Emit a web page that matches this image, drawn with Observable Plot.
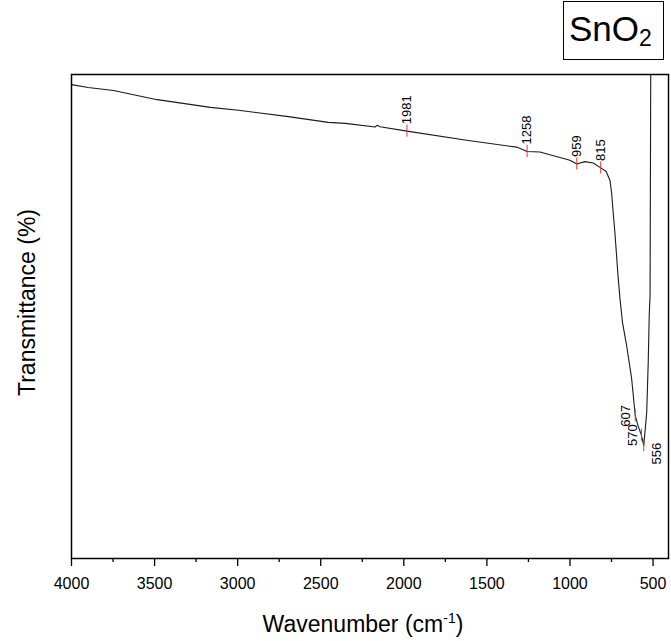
<!DOCTYPE html>
<html>
<head>
<meta charset="utf-8">
<script src="https://cdn.jsdelivr.net/npm/d3@7"></script>
<script src="https://cdn.jsdelivr.net/npm/@observablehq/plot@0.6"></script>
<style>
  body { margin: 0; background: #fff; font-family: "Liberation Sans", Arial, sans-serif; }
  #fig { position: relative; width: 671px; height: 641px; }
  #title {
    position: absolute; left: 563px; top: 1px; width: 101px; height: 59px;
    border: 1px solid #000; color: #000; box-sizing: border-box;
  }
  #title span { position: absolute; left: 5px; top: 9px; font-size: 35px; line-height: 35px; white-space: nowrap; }
  #title sub { font-size: 23px; position: relative; top: 5px; vertical-align: baseline; line-height: 0; }
  #xlabel {
    position: absolute; left: 213px; width: 300px; top: 611px; text-align: center;
    font-size: 23px; line-height: 26px; color: #000;
  }
  #xlabel sup { font-size: 14px; vertical-align: 9px; line-height: 0; }
</style>
</head>
<body>
<div id="fig"></div>
<script>
// FTIR spectrum of SnO2: wavenumber (cm-1) and transmittance (%)
const wavenumber = [4000, 3900, 3747, 3484, 3164, 2996, 2695, 2454, 2352, 2173, 2161, 2143,
  1981, 1622, 1321, 1258, 1181, 1000, 959, 910, 860, 815, 783, 759, 749, 741, 729, 711, 699,
  684, 659, 629, 607, 591, 570, 556, 538, 529, 523, 518, 514, 510];
const transmittance = [97.9, 97.3, 96.7, 94.8, 93.2, 92.6, 91.3, 90.1, 89.9, 89.15, 89.5, 89.2,
  88.3, 86.4, 85.0, 84.1, 84.0, 82.3, 81.5, 82.0, 81.7, 80.7, 80.0, 78.1, 75.4, 71.9, 67.1, 58.5, 53.7,
  48.8, 44.0, 37.2, 29.5, 27.5, 25.5, 23.3, 30.2, 40.6, 50.2, 54.3, 100, 103];

// Marked band positions
const peakWavenumbers = [1981, 1258, 959, 815, 607, 570, 556];
const peakTransmittance = [88.3, 84.1, 81.5, 80.7, 29.5, 25.5, 23.3];

// Axis ticks
const majorTicks = [4000, 3500, 3000, 2500, 2000, 1500, 1000, 500];
const minorTicks = [3750, 3250, 2750, 2250, 1750, 1250, 750];

const spectrum = wavenumber.map((w, i) => ({w, t: transmittance[i]}));
const peaks = peakWavenumbers.map((w, i) => ({w, t: peakTransmittance[i], label: String(w)}));

// Label groups: flat region labels sit above; crowded band labels sit beside the curve
const above = peaks.filter(d => d.w > 700);
const left = peaks.filter(d => d.w === 607 || d.w === 570);
const below = peaks.filter(d => d.w === 556);

const tickHalf = 1.25; // half length of the red marker, in transmittance units

const chart = Plot.plot({
  width: 671,
  height: 641,
  marginLeft: 71,
  marginRight: 3,
  marginTop: 74,
  marginBottom: 83,
  style: { fontFamily: "'Liberation Sans', Arial, sans-serif", color: "#000", background: "#fff" },
  x: { domain: [4000, 407], label: null },
  y: { domain: [0, 100], axis: null },
  marks: [
    Plot.axisX({ ticks: majorTicks, tickSize: 8, tickPadding: 11, fontSize: 16, label: null, strokeWidth: 1.3, tickFormat: d => String(d) }),
    Plot.axisX({ ticks: minorTicks, tickSize: 4, tickFormat: () => "", label: null, strokeWidth: 1.3 }),
    Plot.line(spectrum, { x: "w", y: "t", stroke: "#1a1a1a", strokeWidth: 1.1, clip: true }),
    Plot.ruleX(peaks, { x: "w", y1: d => d.t - tickHalf, y2: d => d.t + tickHalf, stroke: "#f03030", strokeWidth: 1 }),
    Plot.text(above, { x: "w", y: "t", text: "label", rotate: -90, textAnchor: "start", dy: -7, fontSize: 13, fill: "#000" }),
    Plot.text(left, { x: "w", y: "t", text: "label", rotate: -90, textAnchor: "start", dx: -9, dy: 11, fontSize: 13, fill: "#000" }),
    Plot.text(below, { x: "w", y: "t", text: "label", rotate: -90, textAnchor: "end", dx: 13, dy: -3, fontSize: 13, fill: "#000" }),
    Plot.text(["Transmittance (%)"], { frameAnchor: "left", rotate: -90, textAnchor: "middle", dx: -44, dy: -14, fontSize: 23, fill: "#000" }),
    Plot.frame({ stroke: "#000", strokeWidth: 1.5 })
  ]
});

const fig = document.getElementById("fig");
fig.appendChild(chart);

const title = document.createElement("div");
title.id = "title";
title.innerHTML = "<span>SnO<sub>2</sub></span>";
fig.appendChild(title);

const xlabel = document.createElement("div");
xlabel.id = "xlabel";
xlabel.innerHTML = "Wavenumber (cm<sup>-1</sup>)";
fig.appendChild(xlabel);
</script>
</body>
</html>
